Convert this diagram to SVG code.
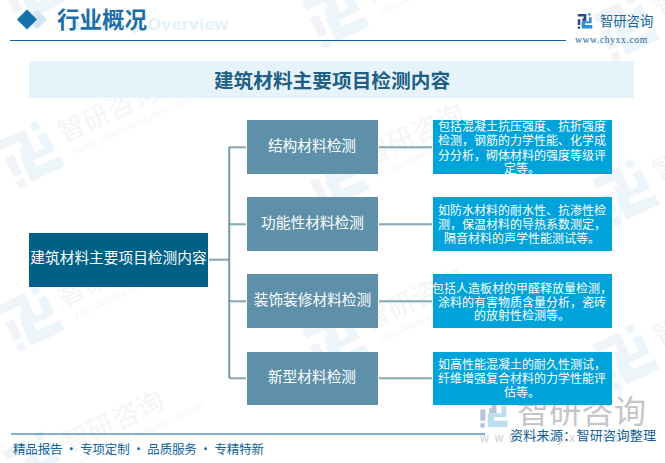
<svg xmlns="http://www.w3.org/2000/svg" xmlns:xlink="http://www.w3.org/1999/xlink" width="665" height="463" viewBox="0 0 665 463">
<style>
text{font-family:"Noto Sans CJK SC","Liberation Sans",sans-serif}
.wt{font-size:27px;fill:#f5f5f6}
.ws{font-size:8px;fill:#f5f6f7;font-family:"Liberation Sans",sans-serif}
.root{fill:#006186}
.branch{fill:#5e90a9}
.detail{fill:#00a3da}
.lbl{font-size:14.7px;fill:#fff;text-anchor:middle}
.det{font-size:12px;fill:#fff;text-anchor:middle}
.conn{fill:none;stroke:#4a7a90;stroke-width:1.2}
.halo{fill:none;stroke:#c3d5dd;stroke-width:1.4}
.rule{stroke:#0f639c;stroke-width:1.2}
.foot{font-size:12.500px;fill:#0f639c}
</style>
<defs>
<path id="mkA" d="M-22-20H4V2H-8V-6H-4V-12H-22ZM-22-4H-14V14H-22ZM-22 18H-15V25H-22Z"/>
<path id="mkB" d="M10-22H17V-15H10ZM12-10H20V8H0V14H22V24H-10V2H12Z"/>
<g id="wm">
<g transform="rotate(-25)">
<use xlink:href="#mkA" fill="#f0f4f8" transform="scale(1.15)"/>
<use xlink:href="#mkB" fill="#ebf5fa" transform="scale(1.15)"/>
<text class="wt" x="34" y="6">智研咨询</text>
<text class="ws" x="40" y="22">INTELLIGENCE RESEARCH GROUP</text>
</g>
</g>
</defs>
<rect width="665" height="463" fill="#fff"/>
<g id="watermarks">
<use xlink:href="#wm" x="30" y="-12"/><use xlink:href="#wm" x="30" y="152"/><use xlink:href="#wm" x="30" y="316"/><use xlink:href="#wm" x="35" y="462"/>
<use xlink:href="#wm" x="335" y="12"/><use xlink:href="#wm" x="335" y="175"/><use xlink:href="#wm" x="335" y="340"/>
<use xlink:href="#wm" x="625" y="25"/><use xlink:href="#wm" x="625" y="190"/><use xlink:href="#wm" x="625" y="355"/>
</g>
<g id="big-logo">
<use xlink:href="#mkA" transform="translate(494,412) scale(.62)" fill="#b8c4d6"/>
<use xlink:href="#mkB" transform="translate(494,412) scale(.62)" fill="#bcdcf0"/>
<text x="517" y="423" font-size="32" letter-spacing="0.3" fill="#c4c6c8">智研咨询</text>
<text x="480" y="442" font-size="12" letter-spacing="6" fill="#cfd1d3" style="font-family:'Liberation Sans',sans-serif">www.chyxx.com</text>
</g>
<g id="header">
<path d="M37 9.500L47 19.500L37 29.500L27 19.500Z" fill="#d5e6f0"/>
<path d="M27 9.500L37 19.500L27 29.500L17 19.500Z" fill="#1670ab"/>
<text x="70" y="30" font-size="17" font-weight="700" fill="#e3f1fa" style="font-family:'Liberation Sans',sans-serif" textLength="158">Industry Overview</text>
<text x="57" y="28" font-size="22.500" font-weight="700" fill="#1a6fa8">行业概况</text>
<line class="rule" x1="10" y1="40.500" x2="566" y2="40.500"/>
</g>
<g id="company-logo">
<use xlink:href="#mkA" transform="translate(585,20.500) scale(.33)" fill="#2f4596"/>
<use xlink:href="#mkB" transform="translate(585,20.500) scale(.33)" fill="#2a90d8"/>
<text x="600" y="26" font-size="13.300" fill="#15649c">智研咨询</text>
<text x="575" y="43" font-size="9.600" letter-spacing="0.6" fill="#15649c" style="font-family:'Liberation Serif',serif">www.chyxx.com</text>
</g>
<g id="banner">
<rect x="29" y="61" width="605" height="37" fill="#e6f3fb"/>
<text x="332" y="88" font-size="19.700" font-weight="700" text-anchor="middle" fill="#1d5f85">建筑材料主要项目检测内容</text>
</g>
<g id="connectors">
<path class="halo" d="M209 259H229M230 148V379M230 148H246M230 225H246M230 302H246M230 379H246M379 148H432M379 225H432M379 302H432M379 379H432"/>
<path class="conn" d="M209 260H229M229 147V378M229 147H246M229 224H246M229 301H246M229 378H246M379 147H432M379 224H432M379 301H432M379 378H432"/>
</g>
<g id="root"><rect class="root" x="29" y="233" width="179" height="54"/><text class="lbl" x="118.500" y="263">建筑材料主要项目检测内容</text></g>
<g id="b1"><rect class="branch" x="247" y="120" width="131" height="54"/><text class="lbl" x="312" y="150.500">结构材料检测</text></g>
<g id="b2"><rect class="branch" x="247" y="197" width="131" height="54"/><text class="lbl" x="312.500" y="227.500">功能性材料检测</text></g>
<g id="b3"><rect class="branch" x="247" y="274" width="131" height="54"/><text class="lbl" x="312.500" y="304.500">装饰装修材料检测</text></g>
<g id="b4"><rect class="branch" x="247" y="352" width="131" height="53"/><text class="lbl" x="312" y="381.500">新型材料检测</text></g>
<g id="d1"><rect class="detail" x="433" y="120" width="179" height="54"/>
<text class="det" x="522" y="131">包括混凝土抗压强度、抗折强度</text>
<text class="det" x="522" y="145">检测，钢筋的力学性能、化学成</text>
<text class="det" x="522" y="160">分分析，砌体材料的强度等级评</text>
<text class="det" x="522" y="173">定等。</text></g>
<g id="d2"><rect class="detail" x="433" y="197" width="179" height="54"/>
<text class="det" x="522" y="215">如防水材料的耐水性、抗渗性检</text>
<text class="det" x="522" y="229">测，保温材料的导热系数测定，</text>
<text class="det" x="522" y="243">隔音材料的声学性能测试等。</text></g>
<g id="d3"><rect class="detail" x="433" y="274" width="179" height="54"/>
<text class="det" x="522" y="293">包括人造板材的甲醛释放量检测，</text>
<text class="det" x="522" y="307">涂料的有害物质含量分析，瓷砖</text>
<text class="det" x="522" y="320">的放射性检测等。</text></g>
<g id="d4"><rect class="detail" x="433" y="352" width="179" height="53"/>
<text class="det" x="522" y="369">如高性能混凝土的耐久性测试，</text>
<text class="det" x="522" y="383">纤维增强复合材料的力学性能评</text>
<text class="det" x="522" y="397">估等。</text></g>
<g id="footer">
<line class="rule" x1="11" y1="434" x2="485" y2="434"/>
<text class="foot" x="13" y="454" textLength="251">精品报告 · 专项定制 · 品质服务 · 专精特新</text>
<text x="510" y="440" font-size="13" letter-spacing="0.3" fill="#0f639c">资料来源：智研咨询整理</text>
</g>
</svg>
